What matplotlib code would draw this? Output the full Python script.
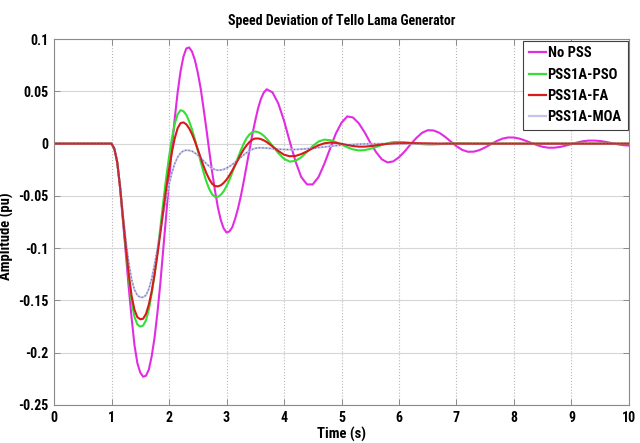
import numpy as np
import matplotlib
matplotlib.use("Agg")
import matplotlib.pyplot as plt
from matplotlib.lines import Line2D
from matplotlib import font_manager

# prefer a narrow sans if one is installed
_names = {f.name for f in font_manager.fontManager.ttflist}
_narrow = [n for n in ('Liberation Sans Narrow', 'Arial Narrow', 'DejaVu Sans Condensed',
                       'Roboto Condensed', 'Open Sans Condensed') if n in _names]
plt.rcParams['font.family'] = _narrow + ['Liberation Sans', 'DejaVu Sans']
plt.rcParams['font.weight'] = 'bold'

# sample times (s): coarse before the fault, 0.05 s through the big swings, 0.1 s afterwards
time_s = np.round(np.concatenate([[0.0, 0.5],
                                  np.arange(1.0, 3.7001, 0.05),
                                  np.arange(3.8, 10.0001, 0.1)]), 2)

# speed deviation (pu), one list per controller
no_pss = [
    0.0, 0.0,
    0.000, -0.005, -0.018, -0.043, -0.075, -0.106, -0.138, -0.167, -0.193, -0.210,   # 1.00-1.45
    -0.219, -0.223, -0.222, -0.216, -0.203, -0.185, -0.161, -0.133, -0.101, -0.069,  # 1.50-1.95
    -0.036, -0.004, 0.024, 0.049, 0.069, 0.083, 0.091, 0.092, 0.088, 0.080,          # 2.00-2.45
    0.068, 0.053, 0.034, 0.014, -0.007, -0.027, -0.045, -0.061, -0.073, -0.081,      # 2.50-2.95
    -0.085, -0.084, -0.080, -0.072, -0.062, -0.050, -0.036, -0.021, -0.006, 0.009,   # 3.00-3.45
    0.022, 0.034, 0.043, 0.049, 0.052,                                               # 3.50-3.70
    0.049, 0.0385, 0.022,                                                            # 3.8-4.0
    0.002, -0.017, -0.032, -0.039, -0.039, -0.032, -0.0195, -0.005, 0.0095,          # 4.1-4.9
    0.020, 0.026, 0.025, 0.0195, 0.011, 0.001, -0.008, -0.015, -0.018, -0.017,       # 5.0-5.9
    -0.013, -0.0074, -0.0008, 0.0053, 0.0103, 0.0128, 0.0126, 0.0104, 0.0066, 0.0020,
    -0.0025, -0.0060, -0.0078, -0.0077, -0.0062, -0.0036, -0.0005, 0.0025, 0.0048, 0.0059,
    0.0058, 0.0047, 0.0028, 0.0007, -0.0014, -0.0031, -0.0039, -0.0039, -0.0032, -0.0019,
    -0.0004, 0.0011, 0.0023, 0.0029, 0.0029, 0.0025, 0.0016, 0.0005, -0.0006, -0.0015,
    -0.0019,
]

pss1a_pso = [
    0.0, 0.0,
    0.000, -0.005, -0.018, -0.042, -0.072, -0.101, -0.128, -0.151, -0.166, -0.173,
    -0.175, -0.174, -0.169, -0.1585, -0.143, -0.125, -0.103, -0.080, -0.056, -0.033,
    -0.013, 0.005, 0.019, 0.028, 0.032, 0.031, 0.0276, 0.0214, 0.0136, 0.0041,
    -0.0064, -0.0171, -0.0272, -0.0363, -0.0435, -0.0485, -0.051, -0.0509, -0.049, -0.0456,
    -0.0407, -0.0347, -0.0278, -0.0205, -0.0132, -0.0062, 0.0000, 0.0053, 0.0088, 0.011,
    0.0116, 0.011, 0.0095, 0.0074, 0.0046,
    -0.0021, -0.0090, -0.0145,
    -0.0172, -0.0165, -0.0131, -0.0079, -0.0023, 0.0020, 0.0038, 0.0033, 0.0015,
    -0.0009, -0.0035, -0.0055, -0.0065, -0.0062, -0.0050, -0.0032, -0.0013, 0.0004, 0.0014,
    0.0016, 0.0014, 0.0008, 0.0001, -0.0005, -0.0008, -0.0008, -0.0005, -0.0001, 0.0002,
    0.0003, 0.0003, 0.0002, 0.0, 0.0, 0.0, 0.0, 0.0, 0.0, 0.0,
    0.0, 0.0, 0.0, 0.0, 0.0, 0.0, 0.0, 0.0, 0.0, 0.0,
    0.0, 0.0, 0.0, 0.0, 0.0, 0.0, 0.0, 0.0, 0.0, 0.0,
    0.0,
]

pss1a_fa = [
    0.0, 0.0,
    0.000, -0.005, -0.018, -0.042, -0.071, -0.099, -0.125, -0.146, -0.159, -0.166,
    -0.168, -0.1675, -0.1628, -0.1538, -0.1409, -0.1246, -0.1057, -0.0853, -0.0643, -0.0438,
    -0.0248, -0.0082, 0.0052, 0.0147, 0.0196, 0.0203, 0.0185, 0.0146, 0.0091, 0.0022,
    -0.0055, -0.0134, -0.0213, -0.0283, -0.0340, -0.0384, -0.0406, -0.0409, -0.0399, -0.0376,
    -0.0345, -0.0304, -0.0257, -0.0206, -0.0154, -0.0102, -0.0054, -0.0016, 0.0016, 0.0039,
    0.0049, 0.0049, 0.0043, 0.0031, 0.0015,
    -0.0027, -0.0070, -0.0106,
    -0.0121, -0.0118, -0.0100, -0.0074, -0.0044, -0.0016, 0.0003, 0.0010, 0.0007,
    -0.0002, -0.0013, -0.0023, -0.0029, -0.0029, -0.0024, -0.0016, -0.0008, -0.0002, 0.0002,
    0.0004, 0.0005, 0.0005, 0.0004, 0.0003, 0.0002, 0.0001, 0.0, 0.0, 0.0,
    0.0, 0.0, 0.0, 0.0, 0.0, 0.0, 0.0, 0.0, 0.0, 0.0,
    0.0, 0.0, 0.0, 0.0, 0.0, 0.0, 0.0, 0.0, 0.0, 0.0,
    0.0, 0.0, 0.0, 0.0, 0.0, 0.0, 0.0, 0.0, 0.0, 0.0,
    0.0,
]

pss1a_moa = [
    0.0, 0.0,
    0.000, -0.005, -0.018, -0.041, -0.068, -0.093, -0.114, -0.130, -0.140, -0.145,
    -0.147, -0.147, -0.145, -0.139, -0.129, -0.115, -0.100, -0.084, -0.067, -0.052,
    -0.039, -0.028, -0.019, -0.013, -0.009, -0.007, -0.0063, -0.0065, -0.0073, -0.0089,
    -0.0111, -0.0137, -0.0165, -0.0192, -0.0217, -0.0236, -0.0249, -0.0255, -0.0253, -0.0247,
    -0.0235, -0.0219, -0.0200, -0.0178, -0.0155, -0.0131, -0.0108, -0.0087, -0.0069, -0.0055,
    -0.0045, -0.0040, -0.0040, -0.0041, -0.0043,
    -0.0048, -0.0053, -0.0056,
    -0.0057, -0.0056, -0.0053, -0.0049, -0.0044, -0.0038, -0.0032, -0.0026, -0.0020,
    -0.0015, -0.0011, -0.0008, -0.0005, -0.0003, -0.0002, -0.0001, 0.0, 0.0, 0.0,
    0.0, 0.0, 0.0, 0.0, 0.0, 0.0, 0.0, 0.0, 0.0, 0.0,
    0.0, 0.0, 0.0, 0.0, 0.0, 0.0, 0.0, 0.0, 0.0, 0.0,
    0.0, 0.0, 0.0, 0.0, 0.0, 0.0, 0.0, 0.0, 0.0, 0.0,
    0.0, 0.0, 0.0, 0.0, 0.0, 0.0, 0.0, 0.0, 0.0, 0.0,
    0.0,
]

for series in (no_pss, pss1a_pso, pss1a_fa, pss1a_moa):
    assert len(series) == len(time_s), (len(series), len(time_s))

labels = ['No PSS', 'PSS1A-PSO', 'PSS1A-FA', 'PSS1A-MOA']
x_ticks = list(range(0, 11))
y_ticks = [0.1, 0.05, 0, -0.05, -0.1, -0.15, -0.2, -0.25]
y_tick_labels = ['0.1', '0.05', '0', '-0.05', '-0.1', '-0.15', '-0.2', '-0.25']

fig = plt.figure(figsize=(6.4, 4.43), dpi=100)
ax = fig.add_axes([0.0844, 0.0858, 0.8984, 0.826])

c_mag = '#e22ce2'
c_grn = '#33e033'
c_red = '#d81a1a'
c_moa = '#c4c4e8'

ax.plot(time_s, no_pss, color=c_mag, lw=1.5)
ax.plot(time_s, pss1a_pso, color=c_grn, lw=1.5)
# MOA trace: pale line under the FA curve, darker dots on top of everything
ax.plot(time_s, pss1a_moa, color=c_moa, lw=1.4)
ax.plot(time_s, pss1a_fa, color=c_red, lw=1.5)
ax.plot(time_s, pss1a_moa, color='#6464b0', lw=0.9, ls=(0, (1, 1.8)), alpha=0.85)

ax.set_xlim(0, 10)
ax.set_ylim(-0.25, 0.1)
ax.set_xticks(x_ticks)
ax.set_xticklabels([str(v) for v in x_ticks])
ax.set_yticks(y_ticks)
ax.set_yticklabels(y_tick_labels)

ax.grid(axis='y', color='#d6d6d6', lw=0.8, ls='-')
ax.grid(axis='x', color='#b8b8b8', lw=0.8, ls=':')
ax.set_axisbelow(True)

for sp in ax.spines.values():
    sp.set_color('#8a8a8a')
    sp.set_linewidth(0.8)
ax.tick_params(direction='in', length=4, width=0.7, color='#8a8a8a',
               top=True, right=True, labelsize=10, pad=4)

ax.set_title('Speed Deviation of Tello Lama Generator', fontsize=10,
             fontweight='bold', pad=10)
ax.set_xlabel('Time (s)', fontsize=10.5, fontweight='bold', labelpad=2)
ax.set_ylabel('Amplitude (pu)', fontsize=10.5, fontweight='bold')
ax.yaxis.set_label_coords(-0.07, 0.46)

handles = [Line2D([], [], color=c, lw=1.6) for c in (c_mag, c_grn, c_red, c_moa)]
leg = ax.legend(handles, labels, loc='upper right', borderaxespad=0.1,
                fontsize=10.5, handlelength=1.2, handletextpad=0.1,
                labelspacing=0.5, fancybox=False, framealpha=1,
                borderpad=0.4)
leg.get_frame().set_edgecolor('#404040')
leg.get_frame().set_linewidth(0.8)

fig.savefig('out.png', dpi=100)
